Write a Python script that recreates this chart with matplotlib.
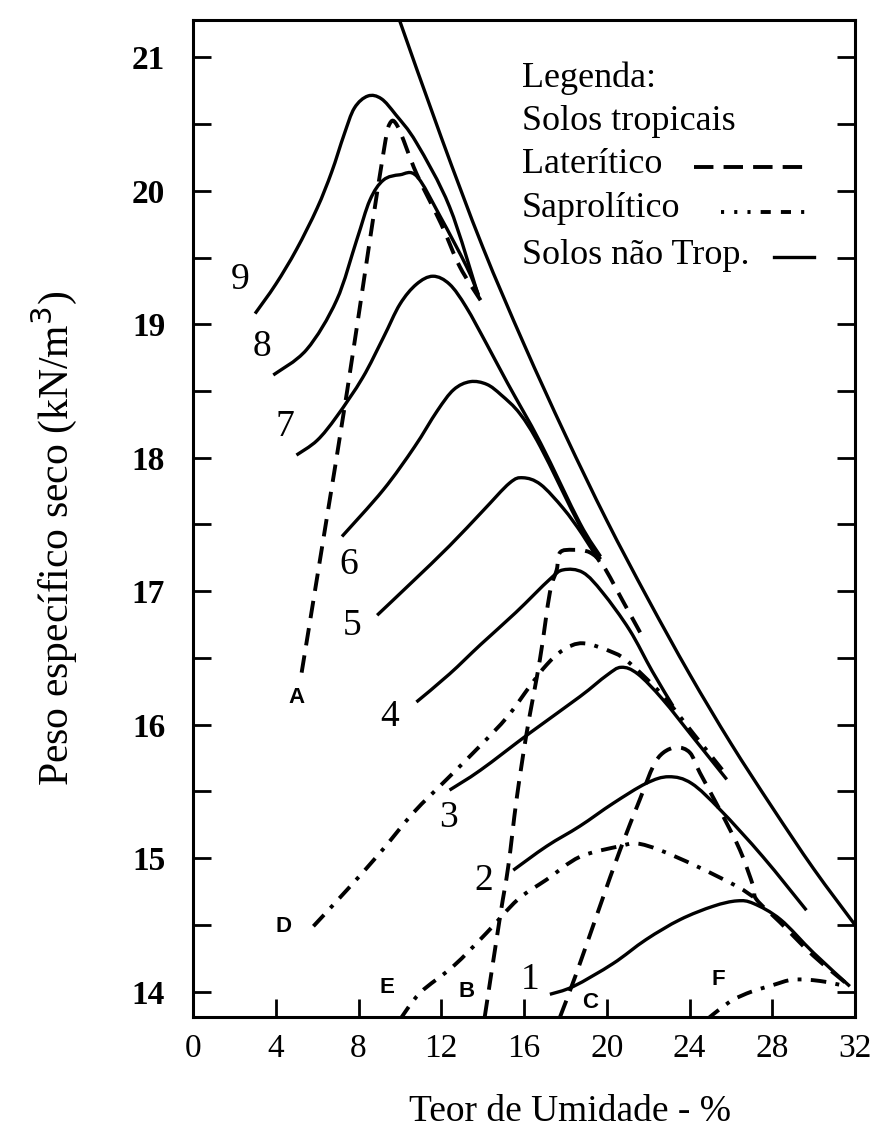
import matplotlib
matplotlib.use('Agg')
import matplotlib.pyplot as plt
from matplotlib.path import Path
from matplotlib.patches import PathPatch

# --- data (moisture % , dry unit weight kN/m3) ---
sat_w = [10.0, 12, 14, 16, 18, 20, 22, 24, 26, 28, 30, 32]
sat_g = [21.27, 20.40, 19.58, 18.85, 18.17, 17.53, 16.94, 16.38, 15.86, 15.38, 14.92, 14.50]

c9_w = [3.0, 4.0, 5.0, 6.0, 6.7, 7.3, 7.8, 8.45, 9.1, 9.8, 10.8, 12.4, 13.8]
c9_g = [19.08, 19.3, 19.56, 19.87, 20.14, 20.42, 20.62, 20.71, 20.69, 20.57, 20.36, 19.88, 19.21]
c8_w = [3.88, 5.49, 6.94, 7.91, 8.55, 9.2, 10.0, 10.81, 11.94, 13.23, 13.8]
c8_g = [18.62, 18.81, 19.18, 19.63, 19.93, 20.08, 20.12, 20.11, 19.81, 19.43, 19.22]
c7_w = [5.0, 6.0, 6.95, 8.2, 9.2, 10.0, 10.8, 11.6, 12.4, 13.2, 14.2, 15.2, 16.8, 18.7, 19.7]
c7_g = [18.02, 18.13, 18.31, 18.6, 18.9, 19.15, 19.3, 19.36, 19.3, 19.13, 18.85, 18.56, 18.11, 17.51, 17.26]
c6_w = [7.2, 9.2, 10.7, 11.8, 12.6, 13.4, 14.2, 14.9, 15.8, 16.8, 18.7, 19.7]
c6_g = [17.41, 17.76, 18.08, 18.35, 18.51, 18.57, 18.55, 18.47, 18.33, 18.08, 17.49, 17.24]
c5_w = [8.9, 10.6, 12.4, 14.0, 15.3, 15.95, 16.8, 17.9, 18.8, 19.65]
c5_g = [16.82, 17.07, 17.34, 17.6, 17.81, 17.85, 17.8, 17.62, 17.43, 17.22]
c4_w = [10.8, 12.4, 13.9, 15.6, 17.25, 17.9, 18.85, 19.8, 21.1, 22.2, 23.2]
c4_g = [16.17, 16.38, 16.6, 16.84, 17.09, 17.16, 17.14, 16.99, 16.71, 16.4, 16.14]
c3_w = [12.4, 13.9, 16.3, 18.7, 20.0, 20.7, 21.5, 22.7, 24.2, 25.8]
c3_g = [15.51, 15.66, 15.94, 16.21, 16.37, 16.43, 16.38, 16.19, 15.9, 15.59]
c2_w = [15.48, 17.1, 18.7, 20.3, 21.9, 23.0, 24.1, 25.5, 27.55, 29.65]
c2_g = [14.91, 15.09, 15.24, 15.41, 15.56, 15.61, 15.56, 15.36, 15.01, 14.61]
c1_w = [17.25, 18.4, 20.3, 21.9, 23.55, 25.15, 26.3, 27.1, 28.4, 30.0, 31.75]
c1_g = [13.98, 14.04, 14.21, 14.39, 14.54, 14.64, 14.68, 14.66, 14.54, 14.29, 14.04]

# lateritic (dashed)
la_w = [5.25, 6.3, 7.45, 8.5, 9.2, 9.5, 9.9, 10.8, 12.0, 12.9, 13.9]
la_g = [16.39, 17.39, 18.5, 19.58, 20.28, 20.5, 20.48, 20.13, 19.75, 19.43, 19.18]
lb_w = [14.1, 14.84, 15.24, 15.64, 16.13, 16.77, 17.25, 17.58, 17.74, 18.38, 19.19, 19.83, 20.8, 21.76]
lb_g = [13.81, 14.56, 14.94, 15.44, 15.94, 16.49, 16.99, 17.16, 17.29, 17.31, 17.29, 17.19, 16.92, 16.65]
lc_w = [17.74, 18.54, 19.67, 20.64, 21.6, 22.25, 22.73, 23.38, 24.02, 24.5, 25.47, 26.44, 27.08, 27.24, 28.37, 29.98, 31.75]
lc_g = [13.81, 14.14, 14.64, 15.06, 15.44, 15.69, 15.79, 15.83, 15.79, 15.64, 15.36, 15.06, 14.79, 14.69, 14.52, 14.27, 14.04]

# saprolitic (dash-dot)
sd_w = [5.82, 7.43, 9.04, 10.65, 12.26, 13.87, 15.2, 16.29, 17.1, 17.9, 18.86, 20.32, 21.12, 22.7, 24.2, 25.8]
sd_g = [14.49, 14.76, 15.04, 15.34, 15.59, 15.84, 16.06, 16.29, 16.45, 16.56, 16.61, 16.54, 16.46, 16.22, 15.93, 15.62]
se_w = [10.0, 10.97, 12.58, 14.19, 15.7, 17.1, 18.7, 20.64, 21.45, 22.57, 24.34, 26.28, 27.08]
se_g = [13.79, 13.99, 14.19, 14.44, 14.69, 14.84, 15.01, 15.09, 15.11, 15.06, 14.94, 14.79, 14.71]
sf_w = [24.83, 25.47, 26.12, 27.0, 28.05, 29.02, 30.3, 31.6]
sf_g = [13.79, 13.87, 13.94, 14.0, 14.05, 14.09, 14.08, 14.04]

num_labels = ['1', '2', '3', '4', '5', '6', '7', '8', '9']
num_x = [16.29, 14.03, 12.34, 9.52, 7.67, 7.51, 4.45, 3.32, 2.27]
num_y = [14.09, 14.83, 15.30, 16.06, 16.74, 17.2, 18.23, 18.83, 19.33]

let_labels = ['A', 'B', 'C', 'D', 'E', 'F']
let_x = [5.01, 13.23, 19.19, 4.37, 9.36, 25.4]
let_y = [16.2, 14.0, 13.92, 14.49, 14.03, 14.09]

legend_lines = ['Legenda:', 'Solos tropicais', 'Laterítico', 'Saprolítico', 'Solos não Trop.']


def smooth_path(xs, ys):
    # bezier path through the read points so the curves are not angular
    pts = list(zip(xs, ys))
    n = len(pts)
    verts = [pts[0]]
    codes = [Path.MOVETO]
    for i in range(n - 1):
        p0 = pts[i - 1] if i > 0 else pts[i]
        p1 = pts[i]
        p2 = pts[i + 1]
        p3 = pts[i + 2] if i + 2 < n else pts[i + 1]
        c1 = (p1[0] + (p2[0] - p0[0]) / 6, p1[1] + (p2[1] - p0[1]) / 6)
        c2 = (p2[0] - (p3[0] - p1[0]) / 6, p2[1] - (p3[1] - p1[1]) / 6)
        verts += [c1, c2, p2]
        codes += [Path.CURVE4] * 3
    return Path(verts, codes)


def draw_curve(ax, xs, ys, lw, ls='solid'):
    ax.add_patch(PathPatch(smooth_path(xs, ys), fill=False, edgecolor='black',
                           lw=lw, linestyle=ls, capstyle='butt'))


plt.rcParams['font.family'] = ['Liberation Serif', 'DejaVu Serif']

fig = plt.figure(figsize=(8.83, 11.4), dpi=100)
ax = fig.add_axes([0.2186, 0.1079, 0.7497, 0.8746])

dash_lat = (0, (4.5, 2.6))
dash_sap = (0, (4.0, 2.4, 1.0, 2.4))

draw_curve(ax, sat_w, sat_g, 2.4)
solid = [(c9_w, c9_g), (c8_w, c8_g), (c7_w, c7_g), (c6_w, c6_g), (c5_w, c5_g),
         (c4_w, c4_g), (c3_w, c3_g), (c2_w, c2_g), (c1_w, c1_g)]
for w, g in solid:
    draw_curve(ax, w, g, 2.4)

for w, g in [(la_w, la_g), (lb_w, lb_g), (lc_w, lc_g)]:
    draw_curve(ax, w, g, 2.8, dash_lat)
for w, g in [(sd_w, sd_g), (se_w, se_g), (sf_w, sf_g)]:
    draw_curve(ax, w, g, 2.8, dash_sap)

for t, x, y in zip(num_labels, num_x, num_y):
    ax.text(x, y, t, fontsize=27, ha='center', va='center')
for t, x, y in zip(let_labels, let_x, let_y):
    ax.text(x, y, t, fontsize=16, ha='center', va='center', fontweight='bold',
            family=['Liberation Sans', 'DejaVu Sans'])

# legend block
leg_y = [0.942, 0.898, 0.855, 0.811, 0.764]
for t, y in zip(legend_lines, leg_y):
    ax.text(0.4965, y, t, transform=ax.transAxes, fontsize=26, ha='left', va='center')
ax.plot([0.757, 0.925], [0.853, 0.853], transform=ax.transAxes, color='black', lw=2.8,
        linestyle=(0, (5.0, 2.6)))
ax.plot([0.797, 0.938], [0.807, 0.807], transform=ax.transAxes, color='black', lw=2.8,
        linestyle=(0, (0.8, 2.6, 0.8, 2.6, 0.8, 2.6, 2.6, 2.6, 2.6, 2.6, 0.8, 2.6)))
ax.plot([0.878, 0.938], [0.762, 0.762], transform=ax.transAxes, color='black', lw=2.4)

ax.set_xlim(0, 32)
ax.set_ylim(13.81, 21.28)
ax.set_xticks(range(0, 33, 4))
ax.set_yticks(range(14, 22))
ax.set_yticks([14.5 + i for i in range(7)], minor=True)
ax.tick_params(axis='x', which='both', direction='in', length=13, width=2, labelsize=24, pad=12)
ax.tick_params(axis='y', which='both', direction='in', length=13, width=2, labelsize=24, pad=20,
               right=True)
for lab in ax.get_yticklabels():
    lab.set_fontweight('bold')
for s in ax.spines.values():
    s.set_linewidth(2.2)

ax.set_xlabel('Teor de Umidade - %', fontsize=27)
ax.xaxis.set_label_coords(0.569, -0.078)
ax.set_ylabel('Peso específico seco (kN/m$^3$)', fontsize=30)
ax.yaxis.set_label_coords(-0.172, 0.48)

fig.savefig('out.png', dpi=100, facecolor='white')
